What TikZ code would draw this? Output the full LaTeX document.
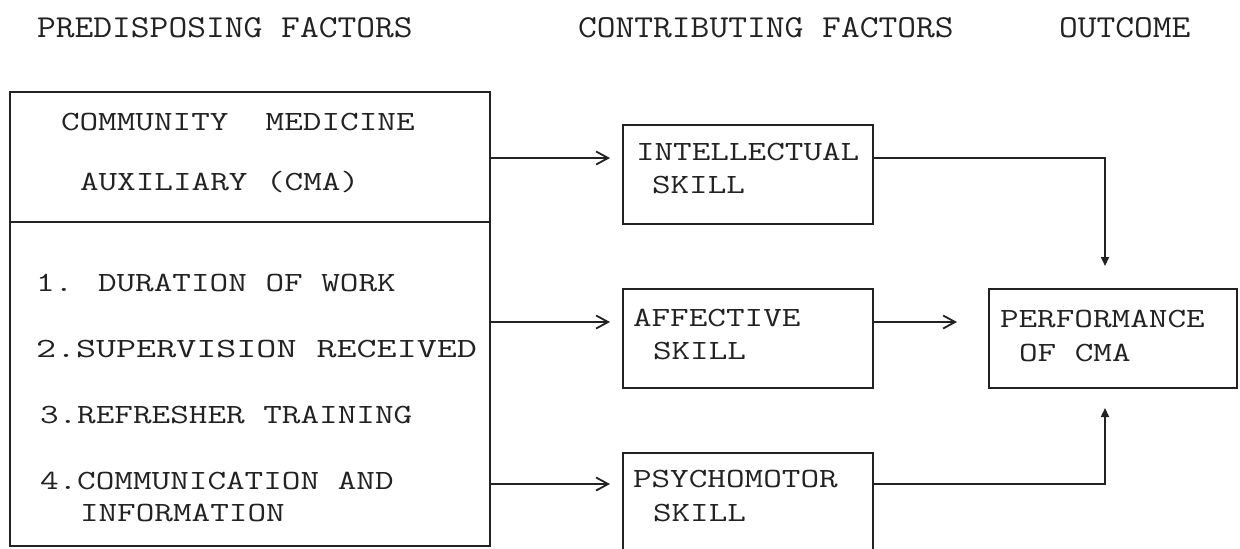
\documentclass[tikz,border=0pt]{standalone}
\usepackage{fontspec}
\usepackage{graphicx}
\usetikzlibrary{arrows.meta}
\definecolor{ink}{HTML}{222222}
\newcommand\bodyfnt{\ttfamily\fontsize{13.9pt}{17pt}\selectfont}
\newcommand\headfnt{\ttfamily\fontsize{16pt}{19pt}\selectfont}
\newcommand\tw[1]{\scalebox{1.3}[1]{#1}}
\newcommand\hw[1]{\scalebox{1.14}[1]{#1}}
\begin{document}
\begin{tikzpicture}[x=0.5pt,y=-0.5pt,
  box/.style={draw=ink, line width=0.9pt, inner sep=0pt, outer sep=0pt, anchor=north west},
  lbl/.style={anchor=base west, inner sep=0pt, outer sep=0pt, text=ink, font=\bodyfnt},
  hlbl/.style={anchor=base west, inner sep=0pt, outer sep=0pt, text=ink, font=\headfnt},
  chev/.style={draw=ink, line width=0.75pt, -{Straight Barb[length=6pt,width=6.5pt,line width=0.9pt]}},
  varr/.style={draw=ink, line width=0.85pt, -{Triangle[length=4.5pt,width=4pt]}}]
\useasboundingbox (0,0) rectangle (1240,548);
\clip (0,0) rectangle (1240,548);
\fill[white] (0,0) rectangle (1240,548);

% headers
\node[hlbl] (h1) at (37,37) {\hw{PREDISPOSING FACTORS}};
\node[hlbl] (h2) at (578,37) {\hw{CONTRIBUTING FACTORS}};
\node[hlbl] (h3) at (1059,37) {\hw{OUTCOME}};

% boxes
\node[box, minimum width=240pt, minimum height=65pt] (lefttop) at (10,92) {};
\node[box, minimum width=240pt, minimum height=162pt] (leftbot) at (10,222) {};
\node[box, minimum width=125pt, minimum height=49.5pt] (intel) at (623,125) {};
\node[box, minimum width=125pt, minimum height=49.5pt] (affect) at (623,289) {};
\node[box, minimum width=125pt, minimum height=62pt] (psycho) at (623,453) {};
\node[box, minimum width=124pt, minimum height=49.5pt] (perf) at (989,289) {};

% texts
\node[lbl] (t1) at (61,130) {\tw{COMMUNITY\ \ MEDICINE}};
\node[lbl] (t2) at (80,190) {\tw{AUXILIARY (CMA)}};
\node[lbl] (i1) at (36,291) {\tw{1. DURATION OF WORK}};
\node[lbl] (i2) at (36,357) {\scalebox{1.4}[1]{2.SUPERVISION RECEIVED}};
\node[lbl] (i3) at (40,423) {\tw{3.REFRESHER TRAINING}};
\node[lbl] (i4) at (40,489) {\tw{4.COMMUNICATION AND}};
\node[lbl] (i5) at (80,521) {\tw{INFORMATION}};
\node[lbl] (s1a) at (636,160) {\tw{INTELLECTUAL}};
\node[lbl] (s1b) at (652,193) {\tw{SKILL}};
\node[lbl] (s2a) at (633,326) {\tw{AFFECTIVE}};
\node[lbl] (s2b) at (653,359) {\tw{SKILL}};
\node[lbl] (s3a) at (633,487) {\tw{PSYCHOMOTOR}};
\node[lbl] (s3b) at (653,521) {\tw{SKILL}};
\node[lbl] (pa) at (1000,327) {\tw{PERFORMANCE}};
\node[lbl] (pb) at (1019,361) {\tw{OF CMA}};

% connector levels
\coordinate (a1) at (0,158);
\coordinate (a2) at (0,322);
\coordinate (a3) at (0,484);
\coordinate (d1) at (1105,266);
\coordinate (d2) at (1105,408);

\draw[chev, shorten >=6.5pt] (lefttop.east |- a1) -- (intel.west |- a1);
\draw[chev, shorten >=6.5pt] (leftbot.east |- a2) -- (affect.west |- a2);
\draw[chev, shorten >=6.5pt] (leftbot.east |- a3) -- (psycho.west |- a3);
\draw[chev, shorten >=16pt] (affect.east |- a2) -- (perf.west |- a2);
\draw[varr] (intel.east |- a1) -| (d1);
\draw[varr] (psycho.east |- a3) -| (d2);
\end{tikzpicture}
\end{document}
